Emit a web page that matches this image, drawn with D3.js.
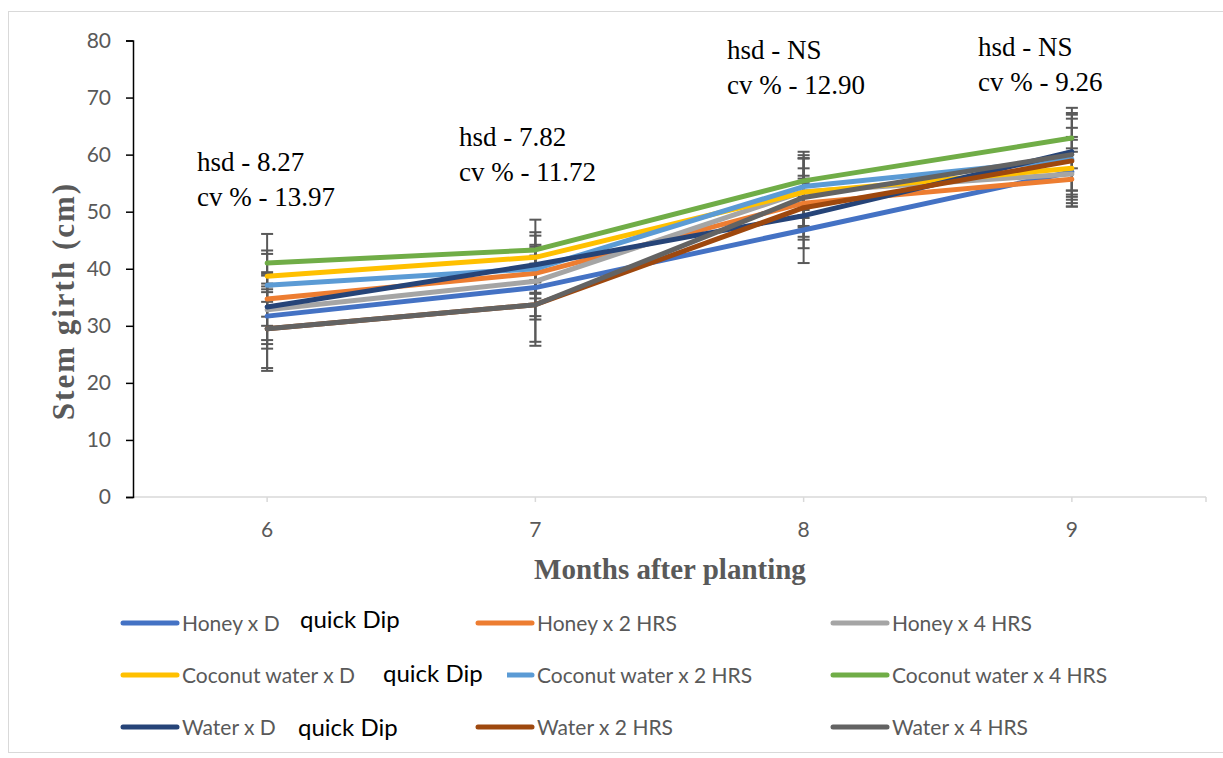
<!DOCTYPE html>
<html>
<head>
<meta charset="utf-8">
<script src="https://cdn.jsdelivr.net/npm/d3@7"></script>
<style>
  body { margin: 0; background: #fff; }
  svg { display: block; }
</style>
</head>
<body>
<svg id="chart" width="1223" height="758"></svg>
<script>
// months after planting
const months = ["6", "7", "8", "9"];

const seriesNames = [
  "Honey x D", "Honey x 2 HRS", "Honey x 4 HRS",
  "Coconut water x D", "Coconut water x 2 HRS", "Coconut water x 4 HRS",
  "Water x D", "Water x 2 HRS", "Water x 4 HRS"
];

const colors = ["#4472C4", "#ED7D31", "#A5A5A5", "#FFC000", "#5B9BD5", "#70AD47",
                "#264478", "#9E480E", "#636363"];

// stem girth (cm), one array per treatment, months 6..9
const honeyD      = [31.7, 36.7, 46.8, 57.0];
const honey2      = [34.7, 39.2, 51.5, 55.7];
const honey4      = [32.8, 37.8, 53.5, 56.6];
const coconutD    = [38.7, 42.0, 53.4, 57.6];
const coconut2    = [37.1, 40.0, 54.4, 59.2];
const coconut4    = [41.0, 43.3, 55.4, 62.9];
const waterD      = [33.3, 40.7, 49.3, 60.5];
const water2      = [29.5, 33.7, 50.7, 58.9];
const water4      = [29.5, 33.7, 52.5, 60.0];

// error bar half-widths
const errHoneyD   = [5.7, 5.6, 5.8, 6.1];
const errHoney2   = [4.7, 4.4, 4.3, 4.8];
const errHoney4   = [6.0, 6.1, 4.1, 4.5];
const errCocoD    = [4.5, 4.4, 5.9, 5.0];
const errCoco2    = [5.5, 4.2, 5.5, 5.5];
const errCoco4    = [5.1, 5.3, 5.1, 5.3];
const errWaterD   = [5.8, 5.1, 5.7, 6.8];
const errWater2   = [6.9, 7.2, 5.6, 7.4];
const errWater4   = [7.4, 6.5, 6.9, 7.0];

const values = [honeyD, honey2, honey4, coconutD, coconut2, coconut4, waterD, water2, water4];
const errors = [errHoneyD, errHoney2, errHoney4, errCocoD, errCoco2, errCoco4, errWaterD, errWater2, errWater4];

const notes = [
  ["hsd - 8.27", "cv % - 13.97"],
  ["hsd - 7.82", "cv % - 11.72"],
  ["hsd - NS", "cv % - 12.90"],
  ["hsd - NS", "cv % - 9.26"]
];
const yTicks = [0, 10, 20, 30, 40, 50, 60, 70, 80];

const svg = d3.select("#chart");
const grey = "#595959";
const serif = "'Liberation Serif', 'Times New Roman', serif";

// chart frame
svg.append("rect")
  .attr("x", 8.5).attr("y", 11.5)
  .attr("width", 1220).attr("height", 741)
  .attr("fill", "#fff").attr("stroke", "#d9d9d9");

const x = d3.scalePoint().domain(months).range([133, 1206]).padding(0.5);
const y = d3.scaleLinear().domain([0, 80]).range([497, 40.5]);

// x axis
const xAxis = svg.append("g");
xAxis.append("line")
  .attr("x1", 133).attr("x2", 1206)
  .attr("y1", y(0)).attr("y2", y(0))
  .attr("stroke", "#d9d9d9").attr("stroke-width", 1.5);
xAxis.selectAll(".xt")
  .data(months.map(m => x(m)).concat([1206]))
  .join("line")
  .attr("x1", d => d).attr("x2", d => d)
  .attr("y1", y(0)).attr("y2", y(0) + 5)
  .attr("stroke", "#d9d9d9").attr("stroke-width", 1.5);
xAxis.selectAll(".xl")
  .data(months)
  .join("text")
  .attr("x", d => x(d))
  .attr("y", y(0) + 40)
  .attr("text-anchor", "middle")
  .attr("font-family", "Lato, sans-serif")
  .attr("font-size", "21px")
  .attr("fill", grey)
  .text(d => d);

// y axis
svg.append("g")
  .attr("transform", "translate(133,0)")
  .call(d3.axisLeft(y).tickValues(yTicks).tickSize(7).tickSizeOuter(7))
  .call(g => g.selectAll("path, line").attr("stroke", "#000").attr("stroke-width", 1.5))
  .call(g => g.selectAll("text")
    .attr("x", -22)
    .attr("font-family", "Lato, sans-serif")
    .attr("font-size", "21px")
    .attr("fill", grey));

// error bars
const barG = svg.append("g");
values.forEach((vals, s) => {
  vals.forEach((v, i) => {
    const e = errors[s][i], cx = x(months[i]);
    barG.append("line")
      .attr("x1", cx).attr("x2", cx)
      .attr("y1", y(v + e)).attr("y2", y(v - e))
      .attr("stroke", grey).attr("stroke-width", 2);
    [v + e, v - e].forEach(t => {
      barG.append("line")
        .attr("x1", cx - 6).attr("x2", cx + 6)
        .attr("y1", y(t)).attr("y2", y(t))
        .attr("stroke", grey).attr("stroke-width", 2);
    });
  });
});

// series lines
const line = d3.line().x((d, i) => x(months[i])).y(d => y(d));
svg.append("g").selectAll("path")
  .data(values)
  .join("path")
  .attr("d", line)
  .attr("fill", "none")
  .attr("stroke", (d, i) => colors[i])
  .attr("stroke-width", 5)
  .attr("stroke-linecap", "round")
  .attr("stroke-linejoin", "round");

// hsd / cv annotations
const noteX = [197, 459, 727, 978];
const noteY = [171, 146, 59, 56];
notes.forEach((n, i) => {
  n.forEach((t, j) => {
    svg.append("text")
      .attr("x", noteX[i]).attr("y", noteY[i] + j * 35)
      .attr("font-family", serif)
      .attr("font-size", "27px")
      .attr("fill", "#000")
      .text(t);
  });
});

// axis titles
svg.append("text")
  .attr("x", 670).attr("y", 579)
  .attr("text-anchor", "middle")
  .attr("font-family", serif)
  .attr("font-weight", "bold")
  .attr("font-size", "29px")
  .attr("fill", grey)
  .text("Months after planting");

svg.append("text")
  .attr("transform", "translate(74,301) rotate(-90)")
  .attr("text-anchor", "middle")
  .attr("font-family", serif)
  .attr("font-weight", "bold")
  .attr("font-size", "31px")
  .attr("letter-spacing", "2px")
  .attr("fill", grey)
  .text("Stem girth (cm)");

// legend
const colX = [123, 478, 833];
const rowY = [623, 675, 727];
seriesNames.forEach((name, i) => {
  const cx = colX[i % 3], cy = rowY[Math.floor(i / 3)];
  svg.append("line")
    .attr("x1", cx).attr("x2", cx + 54)
    .attr("y1", cy).attr("y2", cy)
    .attr("stroke", colors[i]).attr("stroke-width", 5)
    .attr("stroke-linecap", "round");
  svg.append("text")
    .attr("x", cx + 59).attr("y", cy + 7.5)
    .attr("font-family", "Lato, sans-serif")
    .attr("font-size", "21px")
    .attr("fill", grey)
    .text(name);
});

// "quick Dip" text boxes laid over the legend
const dipX = [300, 383, 298];
rowY.forEach((ry, i) => {
  const g = svg.append("g");
  if (i === 1) {
    g.append("rect").attr("x", dipX[i] - 6).attr("y", ry - 18)
      .attr("width", 130).attr("height", 30).attr("fill", "#fff");
  }
  g.append("text")
    .attr("x", dipX[i]).attr("y", ry + 5 + i * 2)
    .attr("font-family", "Lato, sans-serif")
    .attr("font-size", "24px")
    .attr("fill", "#000")
    .text("quick Dip");
});
</script>
</body>
</html>
